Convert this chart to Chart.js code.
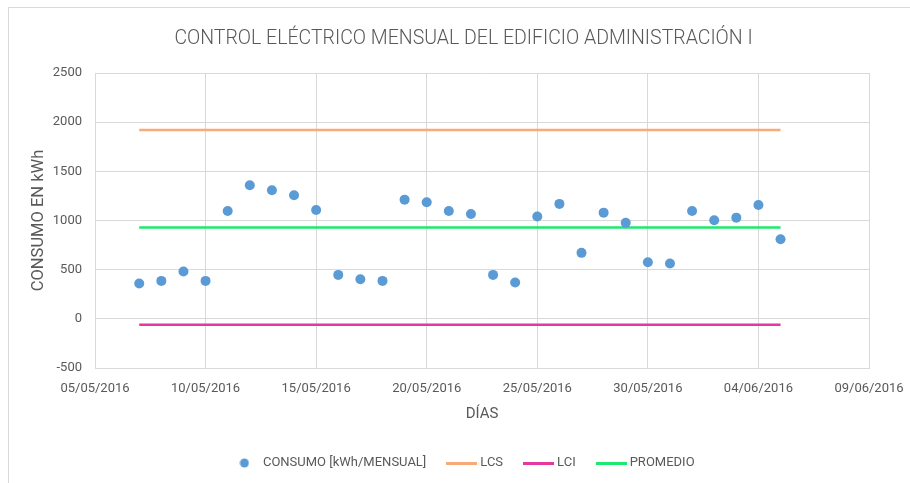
<!DOCTYPE html>
<html>
<head>
<meta charset="utf-8">
<script src="https://cdn.jsdelivr.net/npm/chart.js@4.4.1/dist/chart.umd.min.js"></script>
<style>
    html, body { margin: 0; padding: 0; background: #fff; overflow: hidden; }
    #marco { position: absolute; left: 8px; top: 7px; width: 902px; height: 476px;
             border-left: 1px solid #d9d9d9; border-top: 1px solid #d9d9d9; }
    #wrap { position: absolute; left: 0; top: 0; width: 910px; height: 483px; }
</style>
</head>
<body>
<div id="marco"></div>
<div id="wrap"><canvas id="grafico"></canvas></div>
<script>
// --- DATOS ---
const fechas = [
    "07/05/2016","08/05/2016","09/05/2016","10/05/2016","11/05/2016","12/05/2016",
    "13/05/2016","14/05/2016","15/05/2016","16/05/2016","17/05/2016","18/05/2016",
    "19/05/2016","20/05/2016","21/05/2016","22/05/2016","23/05/2016","24/05/2016",
    "25/05/2016","26/05/2016","27/05/2016","28/05/2016","29/05/2016","30/05/2016",
    "31/05/2016","01/06/2016","02/06/2016","03/06/2016","04/06/2016","05/06/2016"
];
const consumo = [
    359, 386, 481, 386, 1097, 1358, 1307, 1256, 1107, 447,
    403, 386, 1212, 1185, 1097, 1067, 447, 369, 1040, 1169,
    671, 1080, 976, 575, 562, 1097, 1002, 1029, 1158, 809
];
const lcs = 1920;
const lci = -60;
const promedio = 930;

const xTickLabels = ["05/05/2016","10/05/2016","15/05/2016","20/05/2016","25/05/2016","30/05/2016","04/06/2016","09/06/2016"];
const yMin = -500, yMax = 2500, yStep = 500;

// colores
const cAzul = "#5b9bd5", cNaranja = "#f7ab78", cRosa = "#e6379f", cVerde = "#1ee96e";
const cTexto = "#595959", cGrid = "#d9d9d9";

// --- UTILIDADES ---
function diaDe(f) {
    const [d, m, a] = f.split("/").map(Number);
    return Date.UTC(a, m - 1, d) / 86400000;
}
const base = diaDe(xTickLabels[0]);
const xPos = f => diaDe(f) - base;

const puntos = fechas.map((f, i) => ({ x: xPos(f), y: consumo[i] }));
const x0 = xPos(fechas[0]), x1 = xPos(fechas[fechas.length - 1]);
const linea = v => [{ x: x0, y: v }, { x: x1, y: v }];

// iconos de leyenda (linea mas ancha que la caja para acercar el texto)
function iconoLinea(color) {
    const c = document.createElement("canvas");
    c.width = 31; c.height = 3;
    const g = c.getContext("2d");
    g.fillStyle = color; g.fillRect(0, 0, 31, 3);
    return c;
}
function iconoPunto(color) {
    const c = document.createElement("canvas");
    c.width = 10; c.height = 10;
    const g = c.getContext("2d");
    g.fillStyle = color; g.beginPath(); g.arc(5, 5, 4.5, 0, Math.PI * 2); g.fill();
    return c;
}
const iconos = [iconoPunto(cAzul), iconoLinea(cNaranja), iconoLinea(cRosa), iconoLinea(cVerde)];

const fuente = "Roboto, 'Liberation Sans', Arial, sans-serif";

// --- GRAFICO ---
const ctx = document.getElementById("grafico").getContext("2d");
new Chart(ctx, {
    type: "scatter",
    data: {
        datasets: [
            { label: "CONSUMO [kWh/MENSUAL]", data: puntos, backgroundColor: cAzul, borderWidth: 0,
              pointRadius: 5, pointHoverRadius: 5, order: 0 },
            { label: "LCS", data: linea(lcs), type: "line", borderColor: cNaranja, borderWidth: 2.5,
              pointRadius: 0, order: 1 },
            { label: "LCI", data: linea(lci), type: "line", borderColor: cRosa, borderWidth: 2.5,
              pointRadius: 0, order: 1 },
            { label: "PROMEDIO", data: linea(promedio), type: "line", borderColor: cVerde, borderWidth: 2.5,
              pointRadius: 0, order: 1 }
        ]
    },
    options: {
        responsive: true,
        maintainAspectRatio: false,
        animation: false,
        layout: { padding: { left: 17, right: 0, top: 0, bottom: 3.5 } },
        scales: {
            x: {
                type: "linear",
                min: 0, max: 35,
                ticks: {
                    stepSize: 5, color: cTexto, padding: 13,
                    font: { family: fuente, size: 13 },
                    maxRotation: 0,
                    callback: (v, i) => xTickLabels[i]
                },
                grid: { color: cGrid, drawTicks: false },
                border: { color: cGrid },
                title: { display: true, text: "DÍAS", color: cTexto,
                         font: { family: fuente, size: 15 }, padding: { top: 4, bottom: 10 } },
                afterFit: s => { s.height = 65; s.paddingLeft = 0; s.paddingRight = 41; }
            },
            y: {
                min: yMin, max: yMax,
                ticks: { stepSize: yStep, color: cTexto, padding: 13,
                         font: { family: fuente, size: 13 },
                         callback: v => String(v) },
                grid: { color: cGrid, drawTicks: false },
                border: { color: cGrid },
                title: { display: true, text: "CONSUMO EN kWh", color: cTexto,
                         font: { family: fuente, size: 16.5 }, padding: { top: 12, bottom: 0 } },
                afterFit: s => { s.width = 78; }
            }
        },
        plugins: {
            title: {
                display: true,
                text: "CONTROL ELÉCTRICO MENSUAL DEL EDIFICIO ADMINISTRACIÓN I",
                color: cTexto,
                font: { family: fuente, size: 19.5, weight: 300 },
                padding: { top: 27, bottom: 22.6 }
            },
            legend: {
                position: "bottom",
                labels: {
                    usePointStyle: true,
                    pointStyleWidth: 24,
                    boxWidth: 24,
                    color: cTexto,
                    padding: 23.5,
                    font: { family: fuente, size: 13 },
                    generateLabels: chart => {
                        const items = Chart.defaults.plugins.legend.labels.generateLabels(chart);
                        items.forEach((it, i) => { it.pointStyle = iconos[i]; });
                        return items;
                    }
                }
            },
            tooltip: { enabled: false }
        }
    }
});
</script>
</body>
</html>
